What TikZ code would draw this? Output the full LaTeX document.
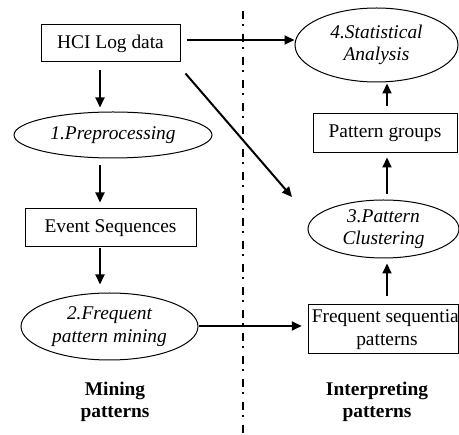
\documentclass[tikz,border=0pt]{standalone}
\usepackage{fontspec}
\setmainfont{Liberation Serif}
\usetikzlibrary{arrows.meta,shapes.geometric}
\begin{document}
\begin{tikzpicture}[x=1pt,y=-1pt,
  every node/.style={font=\fontsize{19.4}{22.5}\selectfont, align=center, inner sep=0pt},
  boxnode/.style={draw, line width=1pt, rectangle},
  ellnode/.style={draw, line width=1pt, ellipse, font=\fontsize{19.4}{22.5}\selectfont\itshape},
  lbl/.style={font=\fontsize{19.4}{22.5}\selectfont\bfseries},
  arr/.style={line width=2pt, -{Triangle[length=10pt,width=9pt]}},
  divider/.style={line width=2pt, dash pattern=on 8pt off 5.5pt on 2pt off 7.5pt}]
\useasboundingbox (0,0) rectangle (459,435);
% left column
\node[boxnode, minimum width=139pt, minimum height=37pt] (hci) at (110.5,43.5) {HCI Log data};
\node[ellnode, minimum width=198pt, minimum height=46pt] (pre) at (113,135) {1.Preprocessing};
\node[boxnode, minimum width=171pt, minimum height=38pt] (evt) at (110.5,228) {Event Sequences};
\node[ellnode, minimum width=177pt, minimum height=67pt] (fpm) at (109.5,326.5) {2.Frequent\\pattern mining};
\node[lbl] (mining) at (115,402) {Mining\\patterns};
% right column
\node[ellnode, minimum width=163pt, minimum height=74pt] (stat) at (376.5,45) {4.Statistical\\Analysis};
\node[boxnode, minimum width=144pt, minimum height=39pt] (pg) at (385,133) {Pattern groups};
\node[ellnode, minimum width=151pt, minimum height=58pt] (clu) at (383.5,229) {3.Pattern\\Clustering};
\node[boxnode, minimum width=150.5pt, minimum height=49pt] (fsp) at (383.5,329.5)
  {\makebox[150pt]{\hspace{9pt}Frequent sequential}\\\hspace{7pt}patterns};
\node[lbl] (interp) at (377,402) {Interpreting\\patterns};
% divider
\coordinate (dtop) at (243,11);
\coordinate (dbot) at (243,435);
\draw[divider] (dtop) -- (dbot);
% connectors
\draw[arr] ([xshift=-10.5pt,yshift=-8pt]hci.south) -- ([xshift=-13pt,yshift=4pt]pre.north);
\draw[arr] ([xshift=-13pt,yshift=-7pt]pre.south) -- ([xshift=-10.5pt,yshift=6pt]evt.north);
\draw[arr] ([xshift=-10.5pt,yshift=-1pt]evt.south) -- ([xshift=-9.5pt,yshift=8pt]fpm.north);
\draw[arr] ([xshift=6pt,yshift=3.5pt]hci.east) -- ([yshift=5pt]stat.west);
\draw[arr] ([xshift=5pt,yshift=-11pt]hci.south east) -- ([xshift=-91.5pt,yshift=32pt]clu.center);
\draw[arr] ([yshift=0.5pt]fpm.east) -- ([xshift=-6pt,yshift=3.5pt]fsp.west);
\draw[arr] ([xshift=3.5pt,yshift=8pt]fsp.north) -- ([xshift=3.5pt,yshift=-5pt]clu.south);
\draw[arr] ([xshift=3.5pt,yshift=5pt]clu.north) -- ([xshift=2pt,yshift=-4.5pt]pg.south);
\draw[arr] ([xshift=2pt,yshift=6.5pt]pg.north) -- ([xshift=10.5pt,yshift=-1pt]stat.south);
\end{tikzpicture}
\end{document}
